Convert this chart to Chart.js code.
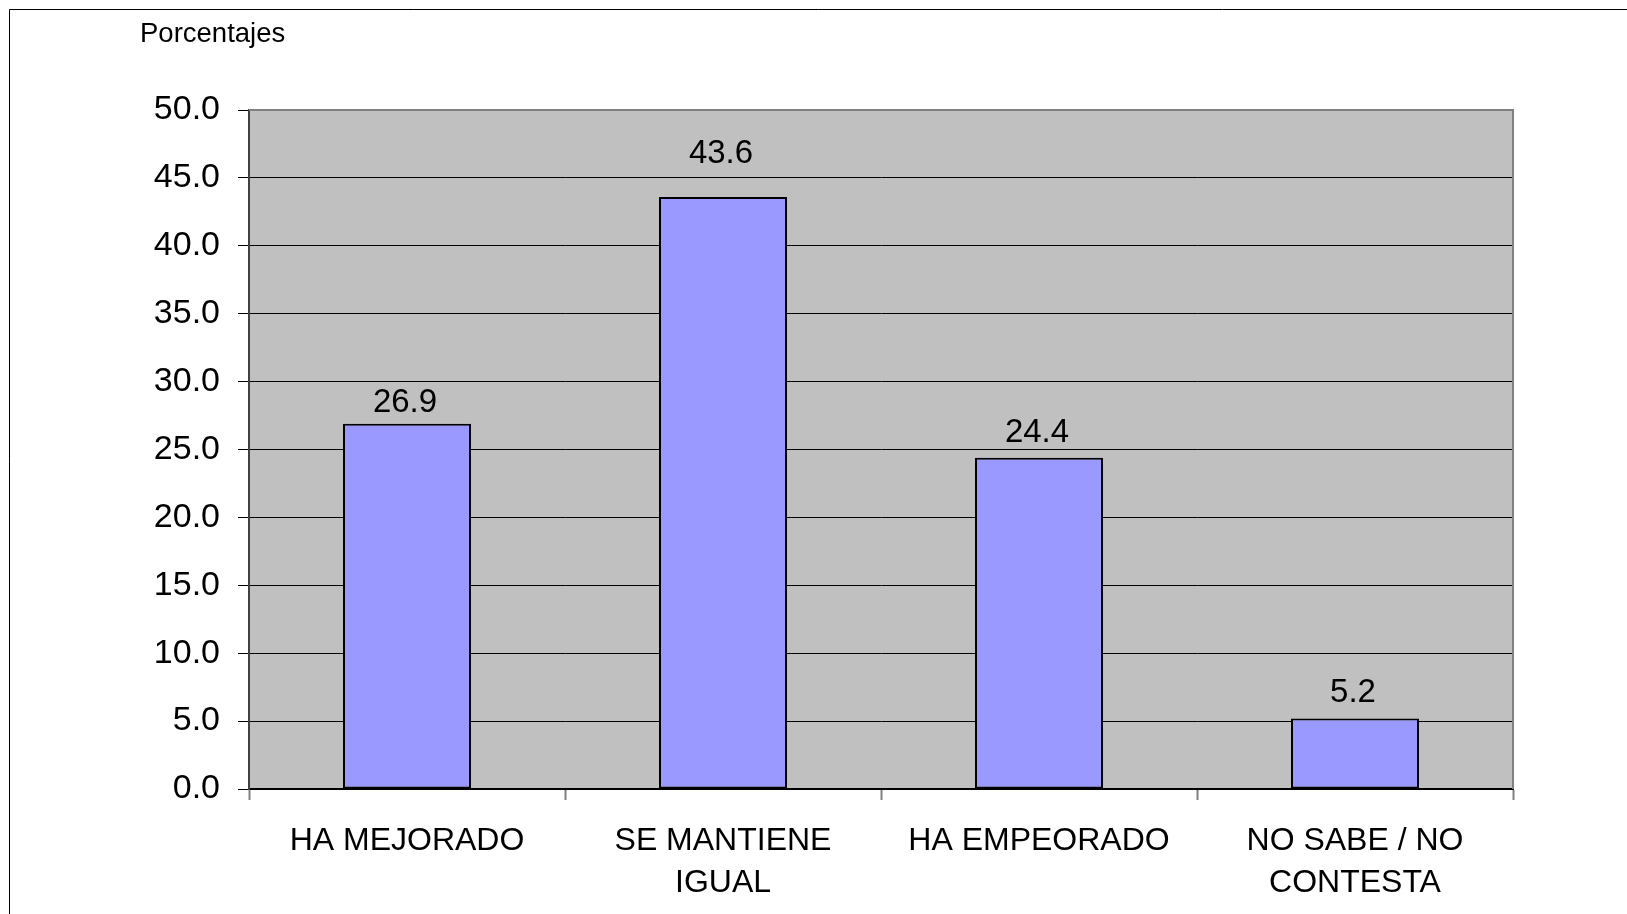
<!DOCTYPE html>
<html>
<head>
<meta charset="utf-8">
<script src="https://cdn.jsdelivr.net/npm/chart.js@4.4.1/dist/chart.umd.min.js"></script>
<style>
  html, body { margin: 0; padding: 0; background: #fff; overflow: hidden; }
  #wrap { position: relative; width: 1627px; height: 914px; }
</style>
</head>
<body>
<div id="wrap"><canvas id="chart" width="1627" height="914"></canvas></div>
<script>
    // Data
    const categories = [
        "HA MEJORADO",
        ["SE MANTIENE", "IGUAL"],
        "HA EMPEORADO",
        ["NO SABE / NO", "CONTESTA"]
    ];
    const percentages = [26.9, 43.6, 24.4, 5.2];
    const yTicks = [0, 5, 10, 15, 20, 25, 30, 35, 40, 45, 50];
    const yAxisLabel = "Porcentajes";

    const fontFamily = "'Liberation Sans', Arial, sans-serif";

    // grey plot background, grey plot border, outer frame and unit label
    const excelLook = {
        id: "excelLook",
        beforeDraw(chart) {
            const { ctx, chartArea: a } = chart;
            ctx.save();
            ctx.fillStyle = "#fff";
            ctx.fillRect(0, 0, chart.width, chart.height);
            ctx.fillStyle = "#C0C0C0";
            ctx.fillRect(a.left, a.top, a.right - a.left, a.bottom - a.top);
            // outer frame (only left and top are visible)
            ctx.strokeStyle = "#000";
            ctx.lineWidth = 1;
            ctx.beginPath();
            ctx.moveTo(9.5, chart.height);
            ctx.lineTo(9.5, 9.5);
            ctx.lineTo(chart.width, 9.5);
            ctx.stroke();
            // unit label
            ctx.fillStyle = "#000";
            ctx.font = "27.5px " + fontFamily;
            ctx.textAlign = "left";
            ctx.textBaseline = "alphabetic";
            ctx.fillText(yAxisLabel, 140, 42);
            ctx.restore();
        },
        beforeDatasetsDraw(chart) {
            const { ctx, chartArea: a } = chart;
            ctx.save();
            ctx.strokeStyle = "#808080";
            ctx.lineWidth = 2;
            ctx.beginPath();
            ctx.moveTo(a.left, a.top);
            ctx.lineTo(a.right, a.top);
            ctx.lineTo(a.right, a.bottom);
            ctx.stroke();
            ctx.restore();
        }
    };

    // value labels above each bar
    const barValues = {
        id: "barValues",
        afterDatasetsDraw(chart, args, opts) {
            const { ctx } = chart;
            const meta = chart.getDatasetMeta(0);
            ctx.save();
            ctx.fillStyle = "#000";
            ctx.font = "33px " + fontFamily;
            ctx.textAlign = "center";
            ctx.textBaseline = "alphabetic";
            meta.data.forEach((bar, i) => {
                const gap = opts.gaps[i] || 14;
                ctx.fillText(percentages[i].toFixed(1), bar.x - 2, bar.y - gap);
            });
            ctx.restore();
        }
    };

    const ctx = document.getElementById("chart").getContext("2d");
    new Chart(ctx, {
        type: "bar",
        data: {
            labels: categories,
            datasets: [{
                data: percentages,
                backgroundColor: "#9999FF",
                borderColor: "#000",
                borderWidth: 2,
                borderSkipped: false,
                barPercentage: 0.405,
                categoryPercentage: 1
            }]
        },
        options: {
            responsive: false,
            animation: false,
            events: [],
            layout: { padding: { left: 0, top: 110, right: 114, bottom: 0 } },
            plugins: {
                legend: { display: false },
                tooltip: { enabled: false },
                barValues: { gaps: [12, 34, 16, 16] }
            },
            scales: {
                x: {
                    afterFit(scale) { scale.height = 125; },
                    grid: {
                        offset: true,
                        drawOnChartArea: false,
                        tickLength: 11,
                        tickColor: "#808080",
                        tickWidth: 2
                    },
                    border: { color: "#000", width: 2 },
                    ticks: {
                        color: "#000",
                        padding: 20,
                        maxRotation: 0,
                        autoSkip: false,
                        font: { family: fontFamily, size: 32, lineHeight: 1.32 }
                    }
                },
                y: {
                    min: 0,
                    max: 50,
                    afterFit(scale) { scale.width = 249; },
                    afterBuildTicks(scale) {
                        scale.ticks = yTicks.map(v => ({ value: v }));
                    },
                    grid: {
                        color: "#000",
                        lineWidth: 1,
                        tickLength: 11,
                        tickColor: "#000"
                    },
                    border: { color: "#404040", width: 2 },
                    ticks: {
                        color: "#000",
                        padding: 18,
                        font: { family: fontFamily, size: 34 },
                        callback: v => Number(v).toFixed(1)
                    }
                }
            }
        },
        plugins: [excelLook, barValues]
    });
</script>
</body>
</html>
